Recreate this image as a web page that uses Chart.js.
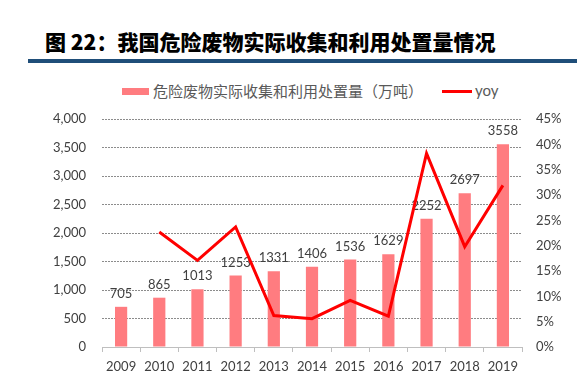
<!DOCTYPE html>
<html>
<head>
<meta charset="utf-8">
<script src="https://cdn.jsdelivr.net/npm/chart.js@4.4.1/dist/chart.umd.min.js"></script>
<style>
  html, body { margin: 0; padding: 0; background: #fff; }
  #wrap { position: relative; width: 587px; height: 373px; overflow: hidden; }
  #title { position: absolute; left: 45px; top: 28px; font: 900 21px "Noto Sans CJK SC", sans-serif; color: #000; white-space: nowrap; line-height: 26px; }
  #rule { position: absolute; left: 28px; top: 59px; width: 549px; height: 4px; background: #1F4E79; }
  .lg { position: absolute; white-space: nowrap; color: #595959; }
  #chart { position: absolute; left: 0; top: 0; }
</style>
</head>
<body>
<div id="wrap">
  <div id="title">图 22：我国危险废物实际收集和利用处置量情况</div>
  <div id="rule"></div>
  <div class="lg" style="left:122px;top:88px;width:27px;height:7px;background:#FF7C80"></div>
  <div class="lg" id="lgBar" style="left:153px;top:81px;font:15px 'Noto Sans CJK SC',sans-serif;line-height:20px"></div>
  <div class="lg" style="left:442px;top:90px;width:30px;height:3px;background:#FF0000"></div>
  <div class="lg" id="lgLine" style="left:475px;top:80px;font:15px Lato,sans-serif;line-height:20px"></div>
  <canvas id="chart" width="587" height="373"></canvas>
</div>
<script>
// data
const years = ["2009", "2010", "2011", "2012", "2013", "2014", "2015", "2016", "2017", "2018", "2019"];
const volume = [705, 865, 1013, 1253, 1331, 1406, 1536, 1629, 2252, 2697, 3558];
const yoy = [null, 0.227, 0.171, 0.237, 0.062, 0.056, 0.092, 0.061, 0.382, 0.198, 0.319];
const barName = "危险废物实际收集和利用处置量（万吨）";
const lineName = "yoy";

document.getElementById("lgBar").textContent = barName;
document.getElementById("lgLine").textContent = lineName;

const tickFont = { family: "Lato", size: 13 };
const tickColor = "#404040";

// value labels above bars, drawn before the line so the line sits on top
const barLabels = {
  id: "barLabels",
  afterDatasetDraw(chart, args) {
    if (args.index !== 0) return;
    const ctx = chart.ctx;
    ctx.save();
    ctx.font = "13px Lato";
    ctx.fillStyle = "#404040";
    ctx.textAlign = "center";
    ctx.textBaseline = "middle";
    args.meta.data.forEach((bar, i) => {
      ctx.fillText(String(volume[i]), bar.x, bar.y - 13);
    });
    ctx.restore();
  }
};

new Chart(document.getElementById("chart"), {
  type: "bar",
  data: {
    labels: years,
    datasets: [
      {
        label: barName,
        data: volume,
        backgroundColor: "#FF7C80",
        categoryPercentage: 1,
        barPercentage: 0.32,
        yAxisID: "y",
        order: 1
      },
      {
        type: "line",
        label: lineName,
        data: yoy,
        borderColor: "#FF0000",
        borderWidth: 3,
        pointRadius: 0,
        tension: 0,
        spanGaps: false,
        yAxisID: "y1",
        order: 0
      }
    ]
  },
  options: {
    responsive: false,
    animation: false,
    layout: { padding: { top: 119, left: 0, right: 0, bottom: 0 } },
    plugins: { legend: { display: false }, tooltip: { enabled: false } },
    scales: {
      x: {
        afterFit: s => { s.height = 26; },
        grid: { drawOnChartArea: false, drawTicks: true, tickLength: 5, color: "#bfbfbf", offset: true },
        border: { display: true, color: "#bfbfbf", width: 1 },
        ticks: { font: tickFont, color: tickColor, padding: 7, maxRotation: 0 }
      },
      y: {
        position: "left",
        min: 0,
        max: 4000,
        afterFit: s => { s.width = 102; },
        ticks: {
          stepSize: 500,
          font: tickFont,
          color: tickColor,
          padding: 16,
          callback: v => v.toLocaleString("en-US")
        },
        grid: { color: "#8c8c8c", drawTicks: false },
        border: { display: false, dash: [2, 1] }
      },
      y1: {
        position: "right",
        min: 0,
        max: 0.45,
        afterFit: s => { s.width = 65; },
        ticks: {
          stepSize: 0.05,
          font: tickFont,
          color: tickColor,
          padding: 14,
          callback: v => Math.round(v * 100) + "%"
        },
        grid: { drawOnChartArea: false, drawTicks: false },
        border: { display: false }
      }
    }
  },
  plugins: [barLabels]
});
</script>
</body>
</html>
